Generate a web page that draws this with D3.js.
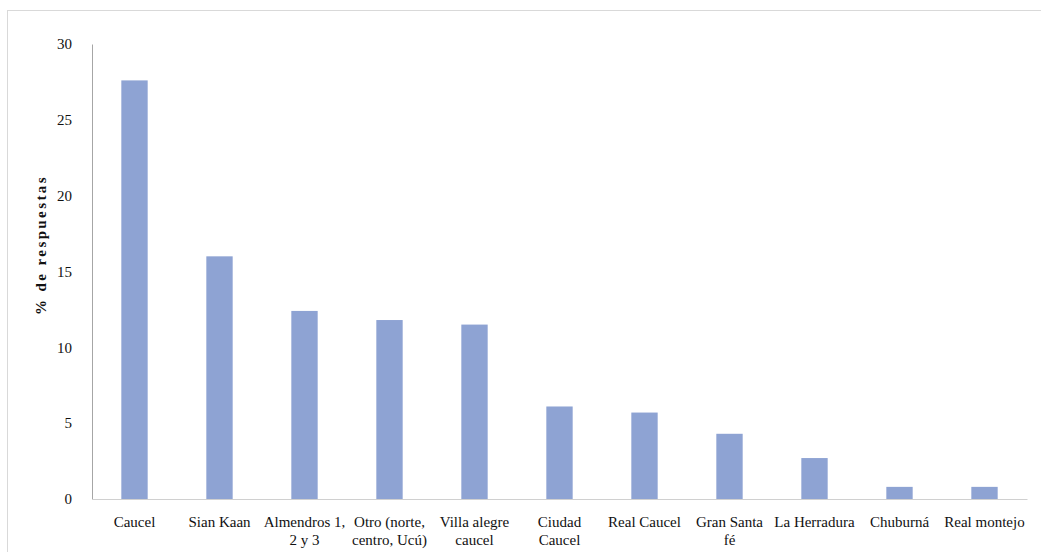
<!DOCTYPE html>
<html>
<head>
<meta charset="utf-8">
<script src="https://cdn.jsdelivr.net/npm/d3@7"></script>
<style>
  body { margin: 0; background: #fff; }
  text { font-family: "Liberation Serif", "DejaVu Serif", serif; fill: #111; }
</style>
</head>
<body>
<div id="chart"></div>
<script>
const categories = ["Caucel", "Sian Kaan", "Almendros 1, 2 y 3", "Otro (norte, centro, Ucú)",
  "Villa alegre caucel", "Ciudad Caucel", "Real Caucel", "Gran Santa fé", "La Herradura",
  "Chuburná", "Real montejo"];
const labelLines = [["Caucel"], ["Sian Kaan"], ["Almendros 1,", "2 y 3"], ["Otro (norte,", "centro, Ucú)"],
  ["Villa alegre", "caucel"], ["Ciudad", "Caucel"], ["Real Caucel"], ["Gran Santa", "fé"], ["La Herradura"],
  ["Chuburná"], ["Real montejo"]];
const values = [27.6, 16.0, 12.4, 11.8, 11.5, 6.1, 5.7, 4.3, 2.7, 0.8, 0.8];
const yTicks = [0, 5, 10, 15, 20, 25, 30];

const W = 1041, H = 552;
const margin = {top: 44, right: 14, bottom: 53, left: 92};
const width = W - margin.left - margin.right;
const height = H - margin.top - margin.bottom;

const svg = d3.select("#chart").append("svg")
  .attr("width", W).attr("height", H);

// frame
svg.append("rect")
  .attr("x", 7.5).attr("y", 10.5)
  .attr("width", W).attr("height", H)
  .attr("fill", "none").attr("stroke", "#d9d9d9");

const g = svg.append("g").attr("transform", `translate(${margin.left},${margin.top})`);

const x = d3.scaleBand().domain(categories).range([0, width])
  .paddingInner(0.69).paddingOuter(0.345);
const y = d3.scaleLinear().domain([0, 30]).range([height, 0]);

g.selectAll("rect.bar")
  .data(values)
  .enter().append("rect")
  .attr("class", "bar")
  .attr("x", (d, i) => x(categories[i]))
  .attr("y", d => y(d))
  .attr("width", x.bandwidth())
  .attr("height", d => height - y(d))
  .attr("fill", "#8ea3d3");

const yAxis = g.append("g")
  .call(d3.axisLeft(y).tickValues(yTicks).tickSize(0).tickPadding(20));
yAxis.select(".domain").attr("stroke", "#a6a6a6");
yAxis.selectAll("text").style("font-size", "15px");

const xAxis = g.append("g")
  .attr("transform", `translate(0,${height})`)
  .call(d3.axisBottom(x).tickSize(0).tickFormat(""));
xAxis.select(".domain").attr("stroke", "#d0d0d0");

xAxis.selectAll(".tick").each(function(d, i) {
  const t = d3.select(this).append("text")
    .attr("text-anchor", "middle")
    .style("font-size", "15px")
    .attr("y", 28);
  labelLines[i].forEach((s, k) => {
    t.append("tspan").attr("x", 0).attr("dy", k === 0 ? 0 : 18).text(s);
  });
});

svg.append("text")
  .attr("transform", "translate(46,245) rotate(-90)")
  .attr("text-anchor", "middle")
  .style("font-size", "15px")
  .attr("font-weight", "bold")
  .attr("letter-spacing", 2.4)
  .text("% de respuestas");
</script>
</body>
</html>
